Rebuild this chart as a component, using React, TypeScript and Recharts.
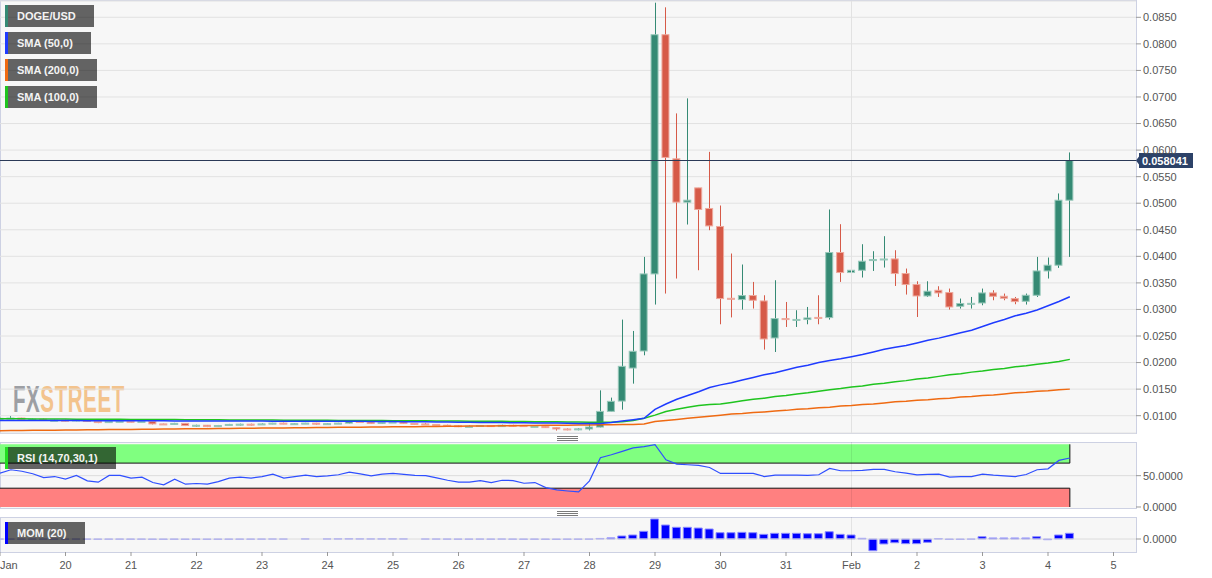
import React from "react";
import { ComposedChart, Bar, Line, XAxis, YAxis, CartesianGrid, ReferenceLine, ReferenceArea } from "recharts";

const FONT = '"Liberation Sans", Arial, sans-serif';

// 4h candles, index 0 = 19 Jan 00:00 ... 98 = 4 Feb 08:00
const OPEN = [
  0.0093, 0.0095, 0.00955, 0.00925, 0.00935, 0.0091, 0.00915, 0.009, 0.0092, 0.0089,
  0.0087, 0.0089, 0.00895, 0.00885, 0.0089, 0.00845, 0.00835, 0.00855, 0.00815, 0.0082,
  0.00795, 0.00815, 0.00835, 0.0084, 0.0083, 0.00845, 0.0086, 0.00845, 0.0085, 0.0086,
  0.0084, 0.0085, 0.0086, 0.0089, 0.0088, 0.00855, 0.00875, 0.0088, 0.00855, 0.00845,
  0.00835, 0.0082, 0.0081, 0.00795, 0.008, 0.00815, 0.00795, 0.0082, 0.00815, 0.00795,
  0.008, 0.00775, 0.0075, 0.00738, 0.0075,
  0.00786, 0.01081, 0.01275, 0.01897, 0.02218, 0.03669, 0.08172, 0.05836, 0.0502, 0.05289,
  0.04901, 0.04562, 0.0321, 0.03186, 0.03262, 0.0316, 0.02463, 0.02828, 0.02805, 0.0281,
  0.0285, 0.02847, 0.04072, 0.03695, 0.03738, 0.0392, 0.0394, 0.03951, 0.03676, 0.03469,
  0.03254, 0.03361, 0.03318, 0.0306, 0.03105, 0.03122, 0.03311, 0.03248, 0.03205, 0.03154,
  0.03267, 0.03725, 0.03833, 0.05057,
];
const HIGH = [
  0.0096, 0.0099, 0.0096, 0.00945, 0.00945, 0.00925, 0.00925, 0.0093, 0.00925, 0.00895,
  0.009, 0.00905, 0.009, 0.009, 0.00895, 0.0085, 0.00865, 0.0086, 0.0083, 0.00825,
  0.00825, 0.00845, 0.0085, 0.0085, 0.00855, 0.00865, 0.0087, 0.0086, 0.00865, 0.00865,
  0.0086, 0.00865, 0.00895, 0.009, 0.0089, 0.0088, 0.00885, 0.00885, 0.0086, 0.00865,
  0.0084, 0.0083, 0.0082, 0.00815, 0.0082, 0.0082, 0.0083, 0.0083, 0.0082, 0.0081,
  0.00805, 0.0078, 0.0076, 0.00765, 0.0088,
  0.01477, 0.0134, 0.02809, 0.02595, 0.03989, 0.08775, 0.08688, 0.06691, 0.06974, 0.05289,
  0.05967, 0.04957, 0.04053, 0.03846, 0.03518, 0.03267, 0.0355, 0.03141, 0.02985, 0.03047,
  0.03267, 0.04882, 0.04605, 0.03927, 0.04228, 0.04096, 0.04379, 0.04115, 0.0377, 0.03531,
  0.03531, 0.03437, 0.03393, 0.03205, 0.03235, 0.03393, 0.03361, 0.03299, 0.03235, 0.03299,
  0.03989, 0.03978, 0.05184, 0.05956,
];
const LOW = [
  0.0092, 0.0094, 0.00915, 0.00915, 0.00905, 0.009, 0.00895, 0.00895, 0.00885, 0.0086,
  0.00865, 0.0088, 0.00875, 0.0088, 0.00835, 0.00825, 0.0083, 0.00805, 0.0079, 0.00785,
  0.0079, 0.0081, 0.00815, 0.00815, 0.00825, 0.0084, 0.0084, 0.00835, 0.00845, 0.0083,
  0.00835, 0.00845, 0.00855, 0.00875, 0.0085, 0.0085, 0.00865, 0.00845, 0.00835, 0.00825,
  0.0081, 0.008, 0.00785, 0.00785, 0.00795, 0.0079, 0.0079, 0.008, 0.0079, 0.00785,
  0.0077, 0.0072, 0.00725, 0.00725, 0.00723,
  0.0078, 0.01075, 0.01113, 0.01603, 0.02137, 0.03092, 0.03299, 0.03582, 0.04599, 0.03738,
  0.04492, 0.02721, 0.0285, 0.02998, 0.03017, 0.02244, 0.02199, 0.0267, 0.0267, 0.02721,
  0.02721, 0.02809, 0.03518, 0.03405, 0.03601, 0.03725, 0.03789, 0.03442, 0.0328, 0.02858,
  0.03235, 0.03235, 0.02998, 0.03017, 0.03017, 0.03079, 0.03173, 0.03173, 0.03098, 0.03092,
  0.03235, 0.03582, 0.03782, 0.03989,
];
const CLOSE = [
  0.0095, 0.00955, 0.00925, 0.00935, 0.0091, 0.00915, 0.009, 0.0092, 0.0089, 0.0087,
  0.0089, 0.00895, 0.00885, 0.0089, 0.00845, 0.00835, 0.00855, 0.00815, 0.0082, 0.00795,
  0.00815, 0.00835, 0.0084, 0.0083, 0.00845, 0.0086, 0.00845, 0.0085, 0.0086, 0.0084,
  0.0085, 0.0086, 0.0089, 0.0088, 0.00855, 0.00875, 0.0088, 0.00855, 0.00845, 0.00835,
  0.0082, 0.0081, 0.00795, 0.008, 0.00815, 0.00795, 0.0082, 0.00815, 0.00795, 0.008,
  0.00775, 0.0075, 0.0074, 0.00752, 0.00786,
  0.01081, 0.0127, 0.01929, 0.02212, 0.03669, 0.08172, 0.05862, 0.0502, 0.05057, 0.04882,
  0.04573, 0.03205, 0.03195, 0.03262, 0.03173, 0.02444, 0.02828, 0.02812, 0.02812, 0.0284,
  0.0284, 0.04072, 0.03695, 0.03738, 0.03908, 0.0394, 0.0395, 0.03676, 0.03469, 0.03254,
  0.03343, 0.03311, 0.03047, 0.03111, 0.03115, 0.03311, 0.03248, 0.03211, 0.03148, 0.03267,
  0.03725, 0.03833, 0.05057, 0.058041,
];
const SMA50 = [
  0.0091, 0.0091, 0.00909, 0.00909, 0.00908, 0.00908, 0.00907, 0.00907, 0.00906, 0.00906,
  0.00905, 0.00905, 0.00904, 0.00904, 0.00903, 0.00903, 0.00902, 0.00902, 0.00901, 0.00901,
  0.009, 0.00899, 0.00899, 0.00898, 0.00898, 0.00897, 0.00897, 0.00896, 0.00896, 0.00895,
  0.00895, 0.00894, 0.00894, 0.00893, 0.00892, 0.00891, 0.0089, 0.00888, 0.00886, 0.00884,
  0.00882, 0.0088, 0.00878, 0.00876, 0.00874, 0.00872, 0.0087, 0.00868, 0.00866, 0.00864,
  0.00862, 0.0086, 0.00858, 0.00855, 0.00853,
  0.00853, 0.0087, 0.009, 0.00925, 0.0095, 0.0112, 0.0122, 0.0131, 0.0138, 0.0145,
  0.0153, 0.0158, 0.0162, 0.0167, 0.0172, 0.0177, 0.0181, 0.0186, 0.0191, 0.0195,
  0.02, 0.0204, 0.0207, 0.0211, 0.0215, 0.022, 0.0225, 0.0229, 0.0232, 0.0237,
  0.0242, 0.0246, 0.0251, 0.0256, 0.0261, 0.0268, 0.0275, 0.0281, 0.0288, 0.0293,
  0.0299, 0.0307, 0.0315, 0.0324,
];
const SMA100 = [
  0.00942, 0.00941, 0.0094, 0.00939, 0.00938, 0.00937, 0.00936, 0.00935, 0.00934, 0.00933,
  0.00932, 0.00931, 0.0093, 0.00929, 0.00928, 0.00927, 0.00926, 0.00925, 0.00924, 0.00923,
  0.00922, 0.00921, 0.0092, 0.00919, 0.00918, 0.00917, 0.00916, 0.00915, 0.00914, 0.00913,
  0.00912, 0.00911, 0.0091, 0.00909, 0.00908, 0.00907, 0.00906, 0.00905, 0.00904, 0.00903,
  0.00902, 0.009, 0.00899, 0.00897, 0.00896, 0.00894, 0.00893, 0.00891, 0.0089, 0.00888,
  0.00886, 0.00884, 0.00882, 0.0088, 0.00877,
  0.00876, 0.00878, 0.00885, 0.0091, 0.0095, 0.0101, 0.0108, 0.0112, 0.0116, 0.0119,
  0.0121, 0.0122, 0.0125, 0.0128, 0.0131, 0.0133, 0.0136, 0.0138, 0.0141, 0.0143,
  0.0146, 0.0149, 0.0151, 0.0154, 0.0156, 0.0159, 0.0161, 0.0164, 0.0166, 0.0169,
  0.0171, 0.0174, 0.0177, 0.0179, 0.0182, 0.0184, 0.0187, 0.0189, 0.0192, 0.0194,
  0.0197, 0.0199, 0.0202, 0.0206,
];
const SMA200 = [
  0.00717, 0.00719, 0.00721, 0.00724, 0.00726, 0.00728, 0.0073, 0.00732, 0.00734, 0.00736,
  0.00738, 0.0074, 0.00742, 0.00744, 0.00746, 0.00748, 0.0075, 0.00752, 0.00754, 0.00756,
  0.00758, 0.0076, 0.00762, 0.00764, 0.00766, 0.00768, 0.0077, 0.00772, 0.00774, 0.00776,
  0.00778, 0.0078, 0.00782, 0.00784, 0.00786, 0.00788, 0.0079, 0.00792, 0.00794, 0.00796,
  0.00798, 0.008, 0.00802, 0.00804, 0.00806, 0.00808, 0.0081, 0.00812, 0.00814, 0.00816,
  0.00818, 0.0082, 0.00822, 0.00824, 0.00826,
  0.00828, 0.0083, 0.00833, 0.00836, 0.00845, 0.0089, 0.0091, 0.0093, 0.0095, 0.0097,
  0.0099, 0.0101, 0.0103, 0.0104, 0.0106, 0.0107, 0.0109, 0.011, 0.0112, 0.0113,
  0.0115, 0.0116, 0.0118, 0.0119, 0.0121, 0.0122, 0.0124, 0.0126, 0.0127, 0.0129,
  0.013, 0.0132, 0.0133, 0.0135, 0.0136, 0.0138, 0.0139, 0.0141, 0.0143, 0.0144,
  0.0146, 0.0147, 0.0149, 0.015,
];
const RSI = [
  54, 59.4, 57, 53, 47, 48.6, 44.4, 50.3, 41.7, 39.6,
  50.3, 50.3, 46, 47.7, 39, 35.3, 44.4, 36.4, 37.5, 36.4,
  40.6, 46, 47.7, 46, 48.6, 52.5, 46, 48.6, 50.9, 48.6,
  49.8, 51.4, 55.7, 52.9, 49.8, 52.5, 53.5, 52, 50.3, 50,
  46.5, 42.7, 39.6, 39.8, 42.2, 39, 42.7, 42.2, 37.9, 39,
  31, 27.2, 25.5, 24, 41.7, 78.6, 83.4, 88.8, 94.2, 96.3,
  99.5, 75.4, 68.5, 67.4, 66.3, 63, 53.5, 53.5, 53.5, 53.5,
  48.6, 50.9, 50.9, 50.9, 50.3, 51.4, 61.5, 57.8, 57.8, 58.5,
  59.9, 59.9, 56.2, 54, 51.4, 52, 52.5, 47.7, 48.6, 48.6,
  52.5, 50.9, 49.8, 48.6, 51.9, 59.4, 60.9, 74.3, 78.2,
];
const MOM = [
  -0.0003, -0.0004, -0.0005, -0.0004, -0.0006, -0.0005, -0.0006, -0.0004, -0.0007, -0.0009,
  -0.0006, -0.0005, -0.0007, -0.0006, -0.001, -0.0011, -0.0008, -0.0012, -0.0009, -0.0012,
  -0.001, -0.0008, -0.0007, -0.0006, -0.0004, -0.0001, -0.0002, 0, 0.0002, 0,
  0.0002, 0.0004, 0.0007, 0.0004, 0.0002, 0.0003, 0.0004, 0.0002, 0, -0.0001,
  -0.0002, -0.0004, -0.0006, -0.0006, -0.0004, -0.0006, -0.0003, -0.0006, -0.0009, -0.0007,
  -0.001, -0.0013, -0.0009, -0.0008, -0.0005,
  0.002, 0.004, 0.011, 0.0146, 0.028, 0.073, 0.051, 0.0427, 0.0427, 0.04,
  0.0365, 0.023, 0.023, 0.0243, 0.023, 0.017, 0.0207, 0.0207, 0.0207, 0.0193,
  0.0193, 0.0266, 0.017, 0.0146, 0.0024, -0.0427, -0.018, -0.0135, -0.017, -0.017,
  -0.012, 0.001, -0.0015, -0.0015, -0.0005, 0.0084, 0.0036, 0.0036, 0.0036, 0.0036,
  0.0084, -0.0024, 0.0146, 0.0208,
];

const PRICE_TICKS = [0.01, 0.015, 0.02, 0.025, 0.03, 0.035, 0.04, 0.045, 0.05, 0.055, 0.06, 0.065, 0.07, 0.075, 0.08, 0.085];
const RSI_TICKS = [0, 50];
const MOM_TICKS = [0];
const DAY_TICKS = [0, 6, 12, 18, 24, 30, 36, 42, 48, 54, 60, 66, 72, 78, 84, 90, 96, 102];
const DAY_LABELS = ["Jan", "20", "21", "22", "23", "24", "25", "26", "27", "28", "29", "30", "31", "Feb", "2", "3", "4", "5"];
const FEB_1 = 78;
const LAST = OPEN.length - 1;

const rows = OPEN.map((o, i) => ({
  i, o, h: HIGH[i], l: LOW[i], c: CLOSE[i],
  s50: SMA50[i], s100: SMA100[i], s200: SMA200[i], rsi: RSI[i], mom: MOM[i],
}));

const X_DOMAIN = [0, 104.06];
const UP = "#358a74";
const UP_EDGE = "#98c8ba";
const DOWN = "#d65a48";
const DOWN_EDGE = "#eea89c";
const BORDER = "#cdd1e3";
const PANEL_BG = "#f7f7f7";

function Candle(p: any) {
  const { x, y, width, height, payload } = p;
  if (!payload || height == null) return null;
  const { o, h, l, c } = payload;
  const k = height / (h - l);
  const top = y + (h - Math.max(o, c)) * k;
  const bot = y + (h - Math.min(o, c)) * k;
  const cx = Math.round(x + width / 2) + 0.5;
  const up = c >= o;
  return (
    <g>
      <line x1={cx} x2={cx} y1={y} y2={y + height} stroke={up ? UP : DOWN} strokeWidth={1} />
      <rect x={x + 0.5} y={top} width={width - 1} height={Math.max(bot - top, 1)}
            fill={up ? UP : DOWN} stroke={up ? UP_EDGE : DOWN_EDGE} strokeWidth={1} />
    </g>
  );
}

function PriceTag(props: any) {
  const vb = props.viewBox || {};
  const X = vb.x + vb.width;
  const Y = vb.y;
  return (
    <g>
      <path d={`M${X} ${Y} L${X + 3} ${Y - 4} L${X + 3} ${Y - 7.5} L${X + 57} ${Y - 7.5} L${X + 57} ${Y + 7.5} L${X + 3} ${Y + 7.5} L${X + 3} ${Y + 4} Z`}
            fill="#2c4268" />
      <text x={X + 6} y={Y + 4} fill="#fff" fontSize={11} fontWeight="bold" fontFamily={FONT}>
        {CLOSE[LAST].toFixed(6)}
      </text>
    </g>
  );
}

function DayTick(props: any) {
  const { x, y, payload } = props;
  const k = DAY_TICKS.indexOf(payload.value);
  return (
    <text x={x} y={y} dy={11} textAnchor={k === 0 ? "start" : "middle"} fontSize={11} fill="#555" fontFamily={FONT}>
      {DAY_LABELS[k]}
    </text>
  );
}

function Tag({ top, color, text }: { top: number; color: string; text: string }) {
  return (
    <div style={{
      position: "absolute", left: 5, top, height: 22, display: "flex", alignItems: "center",
      background: "rgba(0,0,0,0.6)", color: "#f4f4f4", fontSize: 11, fontWeight: "bold",
      fontFamily: FONT, paddingLeft: 9, paddingRight: 18, borderLeft: `3px solid ${color}`,
      boxSizing: "border-box", whiteSpace: "nowrap", zIndex: 5,
    }}>{text}</div>
  );
}

function Panel({ top, height }: { top: number; height: number }) {
  return (
    <div style={{
      position: "absolute", left: 0, top, width: 1137, height, background: PANEL_BG,
      border: `1px solid ${BORDER}`, boxSizing: "border-box",
    }} />
  );
}

function Handle({ top }: { top: number }) {
  return (
    <div style={{ position: "absolute", left: 557, top, width: 21 }}>
      {[0, 2, 4].map((d) => (
        <div key={d} style={{ position: "absolute", left: 0, top: d, width: 21, height: 1, background: "#7a7a7a" }} />
      ))}
    </div>
  );
}

const axisTick = { fontSize: 11, fill: "#555", fontFamily: FONT };
const fmt4 = (v: number) => Number(v).toFixed(4);

export default function App() {
  return (
    <div style={{ position: "absolute", left: 0, top: 0, width: 1212, height: 578, background: "#fff", overflow: "hidden" }}>
      <Panel top={0} height={434} />
      <Panel top={442} height={67} />
      <Panel top={517} height={36} />
      <Handle top={436} />
      <Handle top={511} />

      <div style={{
        position: "absolute", left: 13, top: 382, fontSize: 36, lineHeight: "36px", fontWeight: "bold",
        fontFamily: FONT, transform: "scaleX(0.57)", transformOrigin: "left top", whiteSpace: "nowrap", letterSpacing: 1,
      }}>
        <span style={{ color: "#9d9fa4" }}>FX</span>
        <span style={{ color: "#f3c38d" }}>STREET</span>
      </div>

      <div style={{ position: "absolute", left: 0, top: 0 }}>
        <ComposedChart width={1212} height={434} data={rows} margin={{ top: 1, right: 0, bottom: 1, left: 0 }}>
          <CartesianGrid vertical={false} stroke="#e2e2e2" />
          <XAxis dataKey="i" type="number" domain={X_DOMAIN} allowDataOverflow hide />
          <YAxis orientation="right" width={76} domain={[0.00674, 0.08807]} allowDataOverflow ticks={PRICE_TICKS}
                 tickFormatter={fmt4} tick={axisTick} tickLine={{ stroke: "#999" }} tickSize={5} tickMargin={2} axisLine={false} />
          <ReferenceLine x={FEB_1} stroke="#e2e2e2" />
          <Line dataKey="s200" stroke="#ef6a12" strokeWidth={1.5} dot={false} isAnimationActive={false} />
          <Line dataKey="s100" stroke="#1fc41f" strokeWidth={1.5} dot={false} isAnimationActive={false} />
          <Line dataKey="s50" stroke="#1f3bff" strokeWidth={1.5} dot={false} isAnimationActive={false} />
          <Bar dataKey={(d: any) => [d.l, d.h]} barSize={8} shape={Candle} isAnimationActive={false} />
          <ReferenceLine y={CLOSE[LAST]} stroke="#2b3a57" label={<PriceTag />} />
        </ComposedChart>
      </div>

      <div style={{ position: "absolute", left: 0, top: 442 }}>
        <ComposedChart width={1212} height={76} data={rows} margin={{ top: 0, right: 0, bottom: 10, left: 0 }}>
          <XAxis dataKey="i" type="number" domain={X_DOMAIN} allowDataOverflow hide />
          <YAxis orientation="right" width={76} domain={[-1.6, 103.7]} allowDataOverflow ticks={RSI_TICKS}
                 tickFormatter={fmt4} tick={axisTick} tickLine={{ stroke: "#999" }} tickSize={5} tickMargin={2} axisLine={false} />
          <ReferenceLine y={50} stroke="#dcdcdc" />
          <ReferenceArea x1={0} x2={LAST} y1={70} y2={100} fill="#80ff80" fillOpacity={1} stroke="none" />
          <ReferenceArea x1={0} x2={LAST} y1={0} y2={30} fill="#ff8080" fillOpacity={1} stroke="none" />
          <ReferenceLine segment={[{ x: 0, y: 70 }, { x: LAST, y: 70 }]} stroke="#111" />
          <ReferenceLine segment={[{ x: 0, y: 30 }, { x: LAST, y: 30 }]} stroke="#111" />
          <ReferenceLine segment={[{ x: LAST, y: 70 }, { x: LAST, y: 100 }]} stroke="#111" />
          <ReferenceLine segment={[{ x: LAST, y: 0 }, { x: LAST, y: 30 }]} stroke="#111" />
          <ReferenceLine x={FEB_1} stroke="rgba(0,0,0,0.08)" />
          <Line dataKey="rsi" stroke="#2f4fff" strokeWidth={1.2} dot={false} isAnimationActive={false} />
        </ComposedChart>
      </div>

      <div style={{ position: "absolute", left: 0, top: 517 }}>
        <ComposedChart width={1212} height={61} data={rows} margin={{ top: 0, right: 0, bottom: 0, left: 0 }}>
          <XAxis dataKey="i" type="number" domain={X_DOMAIN} allowDataOverflow ticks={DAY_TICKS} interval={0}
                 height={26} axisLine={false} tickLine={{ stroke: "#999" }} tickSize={4} tickMargin={2} tick={<DayTick />} />
          <YAxis orientation="right" width={76} domain={[-0.0474, 0.0803]} allowDataOverflow ticks={MOM_TICKS}
                 tickFormatter={fmt4} tick={axisTick} tickLine={{ stroke: "#999" }} tickSize={5} tickMargin={2} axisLine={false} />
          <ReferenceLine y={0} stroke="#dcdcdc" />
          <ReferenceLine x={FEB_1} stroke="rgba(0,0,0,0.08)" />
          <Bar dataKey="mom" barSize={8} fill="#0000ff" stroke="#8a8aff" strokeWidth={1} isAnimationActive={false} />
        </ComposedChart>
      </div>

      <Tag top={5} color="#358a74" text="DOGE/USD" />
      <Tag top={32} color="#1f3bff" text="SMA (50,0)" />
      <Tag top={59} color="#ef6a12" text="SMA (200,0)" />
      <Tag top={86} color="#1fc41f" text="SMA (100,0)" />
      <Tag top={447} color="#22dd22" text="RSI (14,70,30,1)" />
      <Tag top={522} color="#0000ff" text="MOM (20)" />
    </div>
  );
}
